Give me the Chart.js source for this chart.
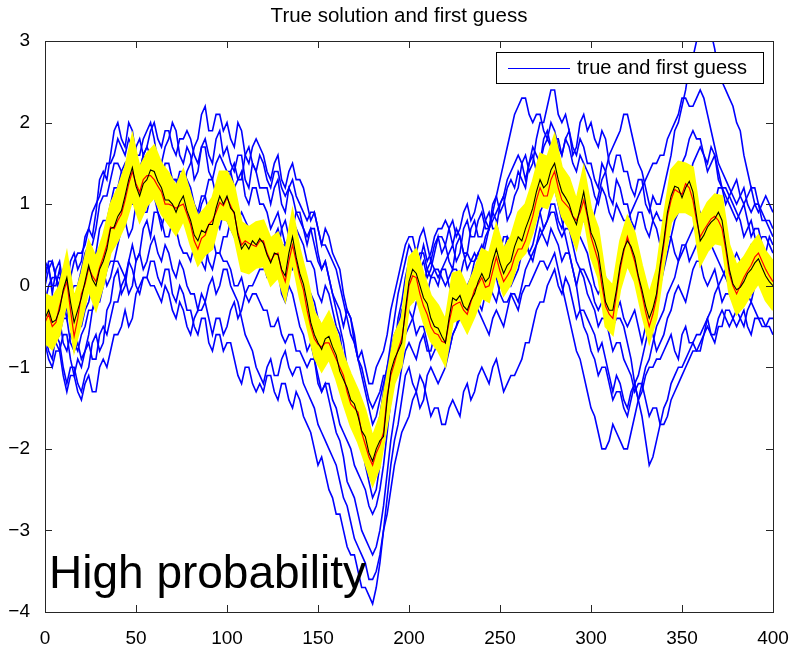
<!DOCTYPE html>
<html><head><meta charset="utf-8">
<script src="https://cdn.jsdelivr.net/npm/chart.js@4.4.0/dist/chart.umd.min.js"></script>
<style>html,body{margin:0;padding:0;background:#fff;}</style>
</head><body>
<canvas id="c" width="803" height="647"></canvas>
<script>
// ---------- data ----------
const lineStep = 2;    // x spacing of the line samples (0..400)
const spreadStep = 4;  // x spacing of the yellow spread samples (0..400)
const xTickValues = [0, 50, 100, 150, 200, 250, 300, 350, 400];
const yTickValues = [-4, -3, -2, -1, 0, 1, 2, 3];
const titleText = 'True solution and first guess';
const legendText = 'true and first guess';
const noteText = 'High probability';

const trueSolution = [
 -0.40,-0.30,-0.45,-0.42,-0.30,-0.05,0.10,-0.20,-0.45,-0.30,
 -0.15,0.05,0.25,0.08,0.00,0.20,0.30,0.45,0.70,0.72,
 0.85,0.92,1.10,1.30,1.45,1.22,1.10,1.25,1.30,1.42,
 1.40,1.28,1.20,1.05,1.05,1.00,0.90,1.02,1.10,0.92,
 0.80,0.62,0.55,0.68,0.65,0.75,0.75,0.95,1.10,1.00,
 1.10,0.95,0.90,0.62,0.45,0.52,0.45,0.55,0.50,0.58,
 0.52,0.38,0.28,0.40,0.38,0.20,0.12,0.40,0.60,0.35,
 0.15,0.02,-0.20,-0.45,-0.60,-0.70,-0.78,-0.65,-0.62,-0.75,
 -0.85,-1.05,-1.15,-1.25,-1.40,-1.45,-1.60,-1.78,-1.85,-2.05,
 -2.15,-2.00,-1.90,-1.85,-1.40,-1.05,-0.90,-0.80,-0.70,-0.30,
 0.05,0.20,0.15,0.00,-0.15,-0.22,-0.40,-0.50,-0.52,-0.62,
 -0.70,-0.40,-0.15,-0.18,-0.12,-0.25,-0.30,-0.18,-0.10,0.05,
 0.15,0.05,0.10,0.30,0.45,0.28,0.15,0.25,0.30,0.48,
 0.60,0.55,0.70,0.82,0.95,1.15,1.30,1.20,1.25,1.42,
 1.50,1.30,1.15,1.08,1.00,0.85,0.75,0.95,1.15,0.88,
 0.65,0.55,0.40,0.10,-0.20,-0.30,-0.30,-0.05,0.25,0.45,
 0.55,0.48,0.35,0.12,-0.05,-0.25,-0.40,-0.28,-0.10,0.25,
 0.55,0.90,1.10,1.22,1.20,1.08,1.20,1.28,1.15,0.85,
 0.55,0.62,0.72,0.78,0.82,0.90,0.80,0.50,0.20,0.02,
 -0.05,-0.02,0.05,0.15,0.20,0.28,0.33,0.22,0.12,0.05,
 0.00];

const analysisMean = [
 -0.45,-0.35,-0.50,-0.45,-0.25,-0.08,0.05,-0.30,-0.62,-0.40,
 -0.10,0.02,0.22,0.12,0.05,0.22,0.35,0.50,0.72,0.70,
 0.80,0.88,1.05,1.25,1.40,1.25,1.15,1.30,1.35,1.35,
 1.30,1.22,1.15,1.00,1.00,0.98,0.95,0.98,1.00,0.88,
 0.75,0.55,0.45,0.58,0.62,0.75,0.80,0.90,1.02,0.98,
 1.08,0.98,0.88,0.65,0.50,0.55,0.52,0.50,0.48,0.55,
 0.55,0.40,0.30,0.38,0.40,0.18,0.05,0.30,0.50,0.30,
 0.10,-0.05,-0.30,-0.50,-0.65,-0.72,-0.75,-0.70,-0.70,-0.80,
 -0.90,-1.00,-1.10,-1.30,-1.45,-1.50,-1.55,-1.80,-1.95,-2.10,
 -2.20,-2.05,-1.95,-1.80,-1.35,-1.10,-0.95,-0.78,-0.65,-0.35,
 0.00,0.12,0.10,-0.10,-0.25,-0.35,-0.50,-0.58,-0.60,-0.68,
 -0.70,-0.45,-0.25,-0.22,-0.20,-0.30,-0.35,-0.20,-0.05,0.02,
 0.10,-0.02,0.00,0.18,0.35,0.18,0.05,0.12,0.20,0.35,
 0.45,0.45,0.55,0.70,0.85,1.05,1.20,1.10,1.10,1.30,
 1.40,1.20,1.05,1.00,0.95,0.85,0.80,0.90,1.05,0.85,
 0.60,0.45,0.30,0.00,-0.25,-0.35,-0.40,-0.10,0.20,0.42,
 0.60,0.45,0.30,0.10,-0.10,-0.32,-0.50,-0.35,-0.15,0.20,
 0.50,0.85,1.05,1.18,1.15,1.12,1.25,1.20,1.05,0.80,
 0.60,0.68,0.75,0.82,0.85,0.80,0.70,0.45,0.15,0.00,
 -0.10,0.00,0.10,0.18,0.25,0.35,0.40,0.30,0.20,0.12,
 0.05];

const spreadUpper = [
 -0.10,-0.15,0.00,0.40,-0.15, 0.15,0.55,0.35,0.62,1.00,
 1.20,1.45,1.85,1.45,1.62, 1.72,1.50,1.38,1.22,1.42,
 1.12,0.85,0.95,1.08,1.40, 1.40,1.22,0.78,0.72,0.78,
 0.80,0.58,0.65,0.42,0.92, 0.45,0.10,-0.32,-0.48,-0.32,
 -0.55,-0.85,-1.08,-1.28,-1.52, -1.85,-1.60,-1.10,-0.60,-0.40,
 0.35,0.45,0.15,-0.12,-0.24, -0.42,0.15,0.18,-0.02,0.20,
 0.45,0.40,0.75,0.45,0.60, 0.90,1.00,1.28,1.62,1.58,
 1.85,1.45,1.32,1.05,1.45, 0.95,0.70,0.10,0.00,0.55,
 0.85,0.65,0.25,-0.10,0.20, 0.85,1.42,1.52,1.50,1.45,
 0.85,1.02,1.12,1.10,0.50, 0.25,0.35,0.50,0.62,0.42,
 0.30];

const spreadLower = [
 -0.70,-0.78,-0.60,-0.20,-0.80, -0.45,-0.05,-0.30,0.00,0.40,
 0.55,0.75,1.05,0.78,0.98, 1.08,0.88,0.75,0.62,0.80,
 0.50,0.25,0.38,0.45,0.82, 0.80,0.60,0.18,0.15,0.22,
 0.24,0.00,0.10,-0.18,0.30, -0.15,-0.50,-0.88,-1.05,-0.90,
 -1.15,-1.45,-1.72,-1.92,-2.18, -2.45,-2.22,-1.70,-1.20,-0.98,
 -0.25,-0.15,-0.45,-0.68,-0.80, -0.98,-0.45,-0.40,-0.58,-0.38,
 -0.15,-0.20,0.15,-0.12,0.02, 0.30,0.40,0.65,0.98,0.95,
 1.18,0.85,0.70,0.45,0.85, 0.35,0.10,-0.50,-0.60,-0.05,
 0.25,0.05,-0.35,-0.70,-0.40, 0.25,0.78,0.90,0.90,0.85,
 0.25,0.42,0.52,0.50,-0.10, -0.35,-0.25,-0.10,0.03,-0.18,
 -0.30];

const guess1 = [
 0.2,0.25,-0.1,0.2,0.3,0.0,0.0,0.3,0.4,0.2,
 0.3,0.6,0.7,0.6,0.9,1.3,1.4,1.3,1.6,1.9,
 2.0,1.8,1.7,2.0,1.9,1.6,1.6,1.8,1.9,2.0,
 1.8,1.5,1.5,1.7,1.8,2.0,1.9,1.6,1.5,1.7,
 1.6,1.3,1.4,1.7,1.8,1.6,1.5,1.8,1.9,1.6,
 1.7,1.5,1.4,1.6,1.6,1.3,1.2,1.5,1.4,1.2,
 1.2,1.2,1.0,1.2,1.3,1.0,0.9,1.2,1.1,0.9,
 0.8,0.7,0.5,0.7,0.7,0.4,0.2,0.3,0.1,-0.1,
 -0.2,-0.3,-0.5,-0.3,-0.4,-0.7,-0.9,-0.8,-1.0,-1.2,
 -1.2,-1.0,-0.9,-0.8,-0.6,-0.3,-0.1,0.1,0.3,0.5,
 0.6,0.6,0.4,0.6,0.7,0.5,0.3,0.5,0.6,0.6,
 0.5,0.3,0.2,0.5,0.6,0.4,0.4,0.7,0.8,0.6,
 0.6,0.8,0.9,0.7,0.7,1.0,1.1,0.8,0.9,1.1,
 1.2,1.5,1.6,1.4,1.5,1.8,2.0,2.0,2.2,2.4,
 2.4,2.1,2.0,2.1,1.9,1.7,1.6,1.8,1.7,1.5,
 1.5,1.3,1.2,1.5,1.4,1.1,1.0,1.3,1.2,1.0,
 1.0,0.8,0.7,0.9,0.9,0.7,0.6,0.8,0.9,0.8,
 0.8,1.0,1.1,1.3,1.3,1.5,1.6,1.8,1.9,1.8,
 1.8,1.6,1.5,1.7,1.6,1.3,1.2,1.1,1.0,0.9,
 0.8,0.9,1.0,0.8,0.6,0.7,0.7,0.5,0.4,0.6,
 0.5];
const guess2 = [
 -0.6,-0.8,-0.9,-0.6,-0.7,-1.0,-1.2,-1.0,-1.0,-1.2,
 -1.3,-1.1,-1.0,-0.7,-0.6,-0.8,-0.7,-0.3,-0.2,0.1,
 0.2,-0.1,0.0,0.3,0.5,0.3,0.4,0.7,0.8,0.6,
 0.9,0.9,0.7,0.9,1.1,1.3,1.3,1.1,1.2,1.4,
 1.5,1.7,1.8,2.1,2.2,1.9,1.9,2.1,2.1,1.9,
 2.0,1.8,1.7,2.0,1.9,1.6,1.5,1.7,1.8,1.7,
 1.6,1.4,1.3,1.5,1.6,1.3,1.2,1.4,1.5,1.3,
 1.3,1.2,1.0,0.8,0.9,0.7,0.5,0.7,0.6,0.4,
 0.3,0.2,-0.1,-0.3,-0.4,-0.6,-0.9,-1.0,-1.2,-1.4,
 -1.5,-1.4,-1.3,-1.1,-1.1,-0.8,-0.7,-0.9,-0.8,-0.6,
 -0.5,-0.4,-0.2,-0.1,-0.3,-0.1,0.1,0.1,0.0,0.2,
 0.3,0.4,0.5,0.3,0.4,0.7,0.8,0.6,0.6,0.8,
 0.9,0.7,0.7,1.0,1.1,0.9,1.0,1.2,1.3,1.2,
 1.4,1.3,1.2,1.5,1.6,1.4,1.5,1.8,1.9,1.7,
 1.8,1.8,1.6,1.8,1.9,1.6,1.7,2.0,2.1,1.9,
 2.0,1.8,1.7,1.9,1.8,1.5,1.4,1.6,1.6,1.4,
 1.4,1.2,1.1,1.3,1.3,1.0,0.9,1.1,1.0,1.0,
 1.2,1.4,1.6,1.9,2.0,2.2,2.4,2.7,2.8,3.0,
 3.1,3.3,3.3,3.1,2.9,2.6,2.5,2.4,2.3,2.2,
 2.0,1.9,1.6,1.4,1.2,1.2,1.0,0.8,0.8,0.7,
 0.6];
const guess3 = [
 -0.7,-0.9,-1.0,-0.8,-0.8,-1.1,-1.3,-1.1,-1.1,-1.3,
 -1.4,-1.2,-1.1,-1.3,-1.3,-1.0,-0.9,-1.0,-0.8,-0.6,
 -0.6,-0.5,-0.3,-0.5,-0.4,-0.1,0.0,0.1,0.1,0.3,
 0.3,0.1,0.0,0.2,0.2,-0.1,-0.2,0.0,-0.1,-0.3,
 -0.3,-0.5,-0.6,-0.4,-0.4,-0.7,-0.8,-0.6,-0.6,-0.8,
 -0.7,-0.7,-0.9,-1.1,-1.2,-1.0,-1.0,-1.2,-1.3,-1.2,
 -1.3,-1.1,-1.1,-1.3,-1.4,-1.2,-1.2,-1.4,-1.5,-1.3,
 -1.4,-1.6,-1.7,-1.8,-2.0,-2.2,-2.1,-2.3,-2.5,-2.6,
 -2.8,-2.8,-3.0,-3.2,-3.3,-3.3,-3.5,-3.7,-3.7,-3.8,
 -3.9,-3.7,-3.4,-3.0,-2.6,-2.2,-1.9,-1.7,-1.4,-1.1,
 -1.0,-1.2,-1.3,-1.1,-1.2,-1.4,-1.6,-1.5,-1.5,-1.7,
 -1.7,-1.5,-1.4,-1.5,-1.6,-1.3,-1.2,-1.4,-1.3,-1.1,
 -1.0,-1.1,-1.2,-1.0,-0.9,-1.1,-1.3,-1.2,-1.1,-1.1,
 -1.0,-0.9,-0.7,-0.7,-0.5,-0.3,-0.2,-0.2,0.0,0.1,
 0.2,0.0,-0.1,0.1,0.0,-0.2,-0.4,-0.3,-0.3,-0.4,
 -0.5,-0.6,-0.8,-0.7,-0.9,-1.1,-1.3,-1.1,-1.2,-1.4,
 -1.5,-1.3,-1.2,-1.4,-1.3,-1.1,-1.0,-1.0,-0.9,-0.9,
 -0.8,-0.7,-0.6,-0.8,-0.9,-0.6,-0.5,-0.7,-0.7,-0.6,
 -0.6,-0.5,-0.4,-0.6,-0.7,-0.5,-0.5,-0.3,-0.3,-0.4,
 -0.5,-0.4,-0.3,-0.5,-0.6,-0.4,-0.4,-0.5,-0.5,-0.4,
 -0.4];
const guess4 = [
 0.3,0.2,0.0,0.0,0.2,-0.1,-0.3,-0.1,-0.1,-0.3,
 -0.2,0.1,0.2,0.2,0.4,0.7,0.8,0.8,1.0,1.2,
 1.2,1.4,1.5,1.3,1.4,1.7,1.8,1.6,1.7,1.9,
 2.0,1.8,1.7,1.9,1.9,1.7,1.6,1.8,1.8,1.9,
 1.8,1.6,1.5,1.7,1.7,1.4,1.3,1.5,1.6,1.5,
 1.4,1.4,1.2,1.3,1.4,1.1,1.0,1.2,1.2,1.0,
 1.0,0.9,0.7,0.8,0.9,0.7,0.5,0.6,0.8,0.7,
 0.6,0.5,0.3,0.3,0.2,-0.1,-0.2,0.0,-0.1,-0.3,
 -0.5,-0.6,-0.9,-1.1,-1.3,-1.6,-1.8,-1.9,-2.2,-2.4,
 -2.6,-2.5,-2.2,-1.8,-1.5,-1.2,-0.8,-0.4,-0.2,0.1,
 0.3,0.2,0.1,0.3,0.5,0.3,0.4,0.6,0.7,0.7,
 0.8,0.7,0.5,0.7,0.6,0.4,0.2,0.3,0.4,0.3,
 0.4,0.6,0.7,0.8,0.9,1.0,1.1,1.3,1.4,1.5,
 1.6,1.5,1.3,1.5,1.7,1.6,1.5,1.7,1.8,1.7,
 1.6,1.5,1.3,1.2,1.0,0.8,0.6,0.6,0.5,0.4,
 0.2,0.0,-0.1,0.0,0.1,-0.1,-0.3,-0.3,-0.2,-0.4,
 -0.5,-0.4,-0.3,-0.5,-0.7,-0.5,-0.4,-0.6,-0.8,-0.7,
 -0.6,-0.4,-0.3,-0.1,0.0,-0.1,-0.2,0.0,0.2,0.3,
 0.3,0.1,0.0,0.1,0.2,0.0,-0.2,-0.1,-0.1,-0.2,
 -0.3,-0.1,0.0,-0.1,-0.2,0.0,0.2,0.1,-0.1,0.0,
 0.1];
const guess5 = [
 -0.5,-0.3,-0.3,-0.5,-0.6,-0.4,-0.4,-0.7,-0.8,-0.7,
 -0.9,-0.8,-0.6,-0.3,-0.2,-0.2,0.0,0.2,0.3,0.3,
 0.5,0.7,0.8,0.6,0.7,1.0,1.1,0.9,0.9,1.1,
 1.1,0.9,0.8,0.6,0.6,0.8,0.7,0.5,0.4,0.4,
 0.3,0.5,0.5,0.3,0.2,0.5,0.6,0.4,0.4,0.6,
 0.6,0.8,0.8,0.6,0.5,0.7,0.6,0.4,0.3,0.4,
 0.3,0.1,0.1,0.3,0.2,-0.1,-0.2,0.0,-0.1,-0.3,
 -0.5,-0.6,-0.8,-0.7,-0.9,-1.2,-1.3,-1.2,-1.4,-1.6,
 -1.8,-1.9,-2.1,-2.4,-2.5,-2.6,-2.8,-3.0,-3.1,-3.2,
 -3.3,-3.2,-3.0,-2.7,-2.3,-1.9,-1.6,-1.3,-1.0,-0.8,
 -0.7,-0.8,-0.9,-0.7,-0.6,-0.8,-0.8,-0.6,-0.4,-0.4,
 -0.5,-0.3,-0.2,-0.3,-0.4,-0.2,-0.1,-0.2,-0.3,-0.2,
 -0.3,-0.1,0.0,-0.1,-0.2,0.0,0.1,0.1,0.0,0.1,
 0.2,0.4,0.5,0.4,0.3,0.5,0.7,0.6,0.5,0.7,
 0.6,0.5,0.3,0.4,0.4,0.2,0.0,0.2,0.1,-0.1,
 -0.2,-0.3,-0.5,-0.4,-0.4,-0.6,-0.8,-0.7,-0.7,-0.9,
 -1.0,-1.1,-1.3,-1.2,-1.2,-1.4,-1.6,-1.5,-1.5,-1.7,
 -1.7,-1.6,-1.4,-1.3,-1.2,-1.1,-1.0,-0.9,-0.8,-0.8,
 -0.7,-0.6,-0.4,-0.3,-0.1,0.0,0.1,0.2,0.3,0.3,
 0.4,0.3,0.2,0.4,0.5,0.4,0.3,0.3,0.4,0.3,
 0.2];
const guess6 = [
 -0.2,0.0,0.1,0.1,-0.1,-0.2,-0.4,-0.1,0.0,0.0,
 0.2,0.4,0.5,0.5,0.7,1.0,1.1,1.1,1.3,1.5,
 1.5,1.4,1.3,1.5,1.6,1.4,1.4,1.6,1.7,1.6,
 1.5,1.3,1.2,1.2,1.1,0.9,0.8,0.8,0.9,0.7,
 0.6,0.5,0.4,0.5,0.5,0.3,0.2,0.4,0.4,0.3,
 0.3,0.2,0.0,0.0,0.1,-0.1,-0.2,-0.1,-0.1,-0.2,
 -0.3,-0.3,-0.5,-0.5,-0.4,-0.6,-0.7,-0.6,-0.6,-0.8,
 -0.8,-0.9,-1.0,-0.9,-0.9,-1.1,-1.3,-1.2,-1.2,-1.4,
 -1.5,-1.7,-1.8,-1.9,-2.0,-2.2,-2.3,-2.4,-2.5,-2.7,
 -2.8,-2.7,-2.5,-2.2,-1.8,-1.4,-1.0,-0.8,-0.6,-0.4,
 -0.3,-0.4,-0.6,-0.5,-0.5,-0.7,-0.9,-0.8,-0.7,-0.8,
 -0.9,-0.8,-0.6,-0.5,-0.4,-0.3,-0.1,-0.1,-0.2,-0.1,
 0.0,0.2,0.3,0.2,0.2,0.4,0.6,0.6,0.5,0.6,
 0.8,0.7,0.6,0.8,1.0,1.0,0.9,1.0,1.3,1.3,
 1.2,1.0,0.8,0.6,0.4,0.2,0.0,-0.3,-0.5,-0.6,
 -0.8,-0.9,-1.1,-1.0,-1.0,-1.2,-1.4,-1.3,-1.3,-1.5,
 -1.6,-1.4,-1.2,-1.1,-0.9,-0.7,-0.5,-0.4,-0.2,0.0,
 0.2,0.4,0.6,0.8,0.9,1.1,1.3,1.3,1.5,1.6,
 1.7,1.6,1.4,1.5,1.6,1.4,1.2,1.2,1.1,1.0,
 0.9,0.8,0.6,0.7,0.8,0.6,0.5,0.6,0.6,0.5,
 0.4];
const guess7 = [
 -0.6,-0.4,-0.4,-0.7,-0.8,-0.6,-0.6,-0.9,-1.1,-0.9,
 -1.0,-0.8,-0.7,-0.9,-0.9,-0.6,-0.5,-0.6,-0.4,-0.2,
 -0.2,0.0,0.1,-0.1,0.0,0.3,0.4,0.2,0.3,0.5,
 0.6,0.4,0.3,0.5,0.4,0.2,0.1,0.3,0.2,0.0,
 -0.1,-0.1,-0.3,-0.1,-0.2,-0.4,-0.6,-0.4,-0.4,-0.6,
 -0.5,-0.3,-0.2,-0.4,-0.3,-0.1,0.0,0.0,0.1,0.2,
 0.2,0.4,0.5,0.3,0.4,0.7,0.8,0.6,0.7,0.9,
 0.9,0.7,0.6,0.7,0.5,0.3,0.2,0.3,0.1,-0.1,
 -0.3,-0.5,-0.7,-1.0,-1.2,-1.4,-1.6,-1.8,-2.0,-2.2,
 -2.4,-2.3,-2.0,-1.7,-1.4,-1.1,-0.9,-0.7,-0.5,-0.4,
 -0.2,-0.2,0.0,0.2,0.3,0.1,0.2,0.4,0.6,0.4,
 0.5,0.7,0.8,0.6,0.7,0.9,1.0,0.8,0.9,1.1,
 1.0,0.8,0.7,0.9,0.8,0.5,0.4,0.6,0.5,0.3,
 0.3,0.5,0.6,0.4,0.5,0.7,0.9,0.7,0.8,1.0,
 1.0,0.8,0.7,0.9,0.9,0.7,0.6,0.8,0.8,0.7,
 0.7,0.9,1.1,1.3,1.4,1.6,1.7,1.8,1.9,2.1,
 2.1,1.9,1.7,1.5,1.4,1.2,1.0,0.8,0.7,0.5,
 0.4,0.6,0.6,0.4,0.3,0.5,0.5,0.3,0.4,0.5,
 0.6,0.7,0.8,0.9,1.0,1.2,1.2,1.0,1.1,1.2,
 1.3,1.1,1.0,1.1,1.2,1.0,0.9,1.0,1.1,1.0,
 0.9];
const guess8 = [
 0.0,0.2,0.3,0.1,0.1,-0.1,-0.2,-0.1,-0.3,-0.5,
 -0.5,-0.3,-0.2,0.0,0.1,0.1,0.3,0.5,0.6,0.7,
 0.9,1.1,1.2,1.0,1.0,1.3,1.4,1.2,1.3,1.5,
 1.6,1.4,1.3,1.5,1.5,1.3,1.2,1.4,1.4,1.3,
 1.2,1.0,0.9,1.1,1.1,1.3,1.3,1.1,1.0,1.2,
 1.2,1.4,1.5,1.3,1.3,1.6,1.7,1.5,1.4,1.6,
 1.5,1.3,1.2,1.4,1.4,1.2,1.1,1.2,1.3,1.1,
 1.0,0.9,0.8,0.9,0.9,0.7,0.5,0.5,0.4,0.3,
 0.2,0.0,-0.2,-0.4,-0.6,-0.7,-0.9,-1.1,-1.3,-1.5,
 -1.7,-1.6,-1.4,-1.2,-1.0,-0.8,-0.6,-0.5,-0.3,-0.2,
 -0.1,0.1,0.2,0.1,0.0,0.2,0.3,0.2,0.1,0.2,
 0.2,0.0,-0.1,0.1,0.0,-0.2,-0.3,-0.2,-0.2,-0.3,
 -0.4,-0.5,-0.6,-0.4,-0.3,-0.4,-0.5,-0.3,-0.1,-0.1,
 -0.2,0.0,0.2,0.3,0.4,0.5,0.6,0.7,0.8,0.9,
 0.9,0.7,0.6,0.7,0.7,0.5,0.3,0.2,0.2,0.1,
 0.0,-0.2,-0.3,-0.2,-0.2,-0.4,-0.5,-0.4,-0.4,-0.5,
 -0.7,-0.9,-1.2,-1.4,-1.6,-1.9,-2.2,-2.1,-1.9,-1.7,
 -1.5,-1.4,-1.2,-1.1,-1.0,-1.0,-0.9,-0.8,-0.7,-0.8,
 -0.8,-0.6,-0.5,-0.6,-0.6,-0.4,-0.3,-0.4,-0.5,-0.4,
 -0.3,-0.4,-0.5,-0.3,-0.2,-0.3,-0.4,-0.4,-0.5,-0.5,
 -0.6];
const guess9 = [
 -0.3,-0.5,-0.6,-0.4,-0.4,-0.7,-0.8,-0.6,-0.7,-0.8,
 -0.6,-0.5,-0.3,-0.3,-0.1,0.1,0.2,0.0,0.1,0.3,
 0.3,0.2,0.1,0.3,0.2,0.0,-0.1,0.1,0.1,0.0,
 0.0,-0.1,-0.2,0.0,-0.1,-0.3,-0.4,-0.2,-0.3,-0.5,
 -0.6,-0.4,-0.3,-0.3,-0.2,0.0,0.1,-0.1,0.0,0.2,
 0.2,0.0,-0.1,-0.2,-0.4,-0.6,-0.7,-0.8,-1.0,-1.1,
 -1.2,-1.0,-0.9,-1.1,-1.1,-0.9,-0.8,-1.0,-1.1,-1.0,
 -1.0,-1.2,-1.3,-1.4,-1.5,-1.7,-1.8,-1.9,-2.0,-2.1,
 -2.2,-2.4,-2.6,-2.7,-2.9,-3.1,-3.2,-3.3,-3.4,-3.6,
 -3.6,-3.5,-3.3,-3.0,-2.8,-2.5,-2.2,-2.0,-1.8,-1.7,
 -1.6,-1.4,-1.3,-1.5,-1.4,-1.1,-1.0,-1.1,-1.2,-1.1,
 -1.0,-0.8,-0.6,-0.5,-0.3,-0.1,0.0,0.1,0.3,0.4,
 0.5,0.3,0.2,0.2,0.1,-0.1,-0.2,-0.2,-0.1,-0.2,
 -0.3,-0.1,0.0,0.0,0.1,0.2,0.3,0.3,0.2,0.3,
 0.4,0.2,0.0,-0.2,-0.4,-0.6,-0.8,-0.9,-1.1,-1.3,
 -1.5,-1.6,-1.8,-2.0,-2.0,-1.9,-1.7,-1.8,-1.9,-2.0,
 -2.0,-1.8,-1.6,-1.4,-1.2,-1.0,-0.9,-0.7,-0.5,-0.4,
 -0.3,-0.1,0.0,0.1,0.3,0.4,0.5,0.6,0.7,0.8,
 0.9,0.8,0.6,0.5,0.4,0.3,0.2,0.1,0.0,0.0,
 -0.1,0.0,0.1,0.0,-0.1,0.0,0.2,0.2,0.1,0.2,
 0.3];
const guess10 = [
 0.1,0.3,0.3,0.1,0.0,0.2,0.2,0.1,0.3,0.4,
 0.4,0.5,0.7,0.9,1.0,1.1,1.3,1.5,1.5,1.6,
 1.8,1.7,1.6,1.8,1.7,1.5,1.4,1.6,1.5,1.3,
 1.2,1.3,1.4,1.2,1.1,1.3,1.3,1.1,1.0,1.1,
 1.0,0.9,0.8,1.0,1.1,0.9,0.9,0.8,0.7,0.9,
 0.8,0.7,0.6,0.8,0.9,0.8,0.7,0.5,0.5,0.6,
 0.6,0.5,0.4,0.6,0.7,0.5,0.5,0.3,0.2,0.3,
 0.3,0.2,0.0,-0.1,-0.2,-0.4,-0.5,-0.6,-0.7,-0.9,
 -1.0,-1.1,-1.2,-1.4,-1.5,-1.6,-1.7,-1.9,-2.0,-2.1,
 -2.0,-1.8,-1.6,-1.3,-1.0,-0.7,-0.4,-0.1,0.1,0.3,
 0.5,0.4,0.3,0.4,0.4,0.2,0.1,0.2,0.2,0.1,
 0.0,0.1,0.2,0.2,0.1,0.3,0.4,0.3,0.3,0.4,
 0.3,0.5,0.7,0.9,1.1,1.3,1.5,1.7,1.9,2.1,
 2.2,2.3,2.3,2.1,2.0,2.1,2.1,1.9,1.8,2.0,
 1.9,1.7,1.6,1.8,1.7,1.5,1.4,1.6,1.5,1.4,
 1.3,1.1,1.0,1.2,1.1,0.9,0.8,1.0,0.9,0.8,
 0.8,0.9,1.0,1.1,1.2,1.3,1.4,1.5,1.5,1.6,
 1.6,1.8,1.9,2.0,2.1,2.3,2.3,2.2,2.2,2.3,
 2.4,2.3,2.1,1.9,1.7,1.5,1.4,1.3,1.2,1.1,
 1.0,1.1,1.2,1.0,0.9,1.0,1.0,0.9,0.8,0.8,
 0.7];
const firstGuesses = [guess1, guess2, guess3, guess4, guess5, guess6, guess7, guess8, guess9, guess10];

// ---------- chart ----------
const FONT = '"Liberation Sans", Arial, Helvetica, sans-serif';
const toPoints = (arr, step) => arr.map((v, i) => ({x: i * step, y: v}));
const lineDs = (arr, step, color, width, extra) => Object.assign({
  data: toPoints(arr, step), borderColor: color, borderWidth: width,
  pointRadius: 0, tension: 0, fill: false, clip: 0
}, extra || {});

const datasets = [
  lineDs(trueSolution, lineStep, '#000000', 1.1),
  lineDs(analysisMean, lineStep, '#ff0000', 1.2),
  lineDs(spreadUpper, spreadStep, '#ffff00', 2),
  lineDs(spreadLower, spreadStep, '#ffff00', 2, { fill: '-1', backgroundColor: '#ffff00' }),
  ...firstGuesses.map(g => lineDs(g, lineStep, '#0000ff', 1.6))
];

const minus = v => (v < 0 ? '\u2212' + Math.abs(v) : String(v));

const matlabAxes = {
  id: 'matlabAxes',
  afterDraw(chart) {
    const ctx = chart.ctx, a = chart.chartArea;
    const xs = chart.scales.x, ys = chart.scales.y;
    ctx.save();
    ctx.strokeStyle = '#262626';
    ctx.lineWidth = 1;
    ctx.strokeRect(Math.round(a.left) + 0.5, Math.round(a.top) + 0.5,
                   Math.round(a.right - a.left), Math.round(a.bottom - a.top));
    const TL = 7;
    ctx.beginPath();
    xTickValues.forEach(v => {
      const px = Math.round(xs.getPixelForValue(v)) + 0.5;
      ctx.moveTo(px, a.bottom); ctx.lineTo(px, a.bottom - TL);
      ctx.moveTo(px, a.top); ctx.lineTo(px, a.top + TL);
    });
    yTickValues.forEach(v => {
      const py = Math.round(ys.getPixelForValue(v)) + 0.5;
      ctx.moveTo(a.left, py); ctx.lineTo(a.left + TL, py);
      ctx.moveTo(a.right, py); ctx.lineTo(a.right - TL, py);
    });
    ctx.stroke();

    // title
    ctx.fillStyle = '#000';
    ctx.font = '20.5px ' + FONT;
    ctx.textAlign = 'center';
    ctx.textBaseline = 'alphabetic';
    ctx.fillText(titleText, 399, 22);

    // legend
    const lx = 496, ly = 52, lw = 267, lh = 31;
    ctx.fillStyle = '#fff';
    ctx.fillRect(lx, ly, lw, lh);
    ctx.strokeStyle = '#000';
    ctx.strokeRect(lx + 0.5, ly + 0.5, lw, lh);
    ctx.strokeStyle = '#0000ff';
    ctx.lineWidth = 1;
    ctx.beginPath(); ctx.moveTo(508, 68.5); ctx.lineTo(570, 68.5); ctx.stroke();
    ctx.fillStyle = '#000';
    ctx.font = '20px ' + FONT;
    ctx.textAlign = 'left';
    ctx.textBaseline = 'middle';
    ctx.fillText(legendText, 577, 68);

    // annotation
    ctx.font = '46px ' + FONT;
    ctx.textBaseline = 'alphabetic';
    ctx.fillText(noteText, 49, 588);
    ctx.restore();
  }
};

new Chart(document.getElementById('c'), {
  type: 'line',
  data: { datasets },
  options: {
    responsive: false,
    animation: false,
    events: [],
    layout: { padding: { top: 41, right: 30, left: 0, bottom: 0 } },
    plugins: { legend: { display: false }, title: { display: false }, tooltip: { enabled: false } },
    scales: {
      x: {
        type: 'linear', min: 0, max: 400,
        afterFit: s => { s.height = 35; },
        afterBuildTicks: s => { s.ticks = xTickValues.map(v => ({value: v})); },
        ticks: { color: '#000', font: { family: FONT, size: 19 }, padding: 7, maxRotation: 0,
                 callback: v => minus(v) },
        grid: { display: false },
        border: { display: false }
      },
      y: {
        type: 'linear', min: -4, max: 3,
        afterFit: s => { s.width = 45; },
        afterBuildTicks: s => { s.ticks = yTickValues.map(v => ({value: v})); },
        ticks: { color: '#000', font: { family: FONT, size: 19 }, padding: 7,
                 callback: v => minus(v) },
        grid: { display: false },
        border: { display: false }
      }
    }
  },
  plugins: [matlabAxes]
});
</script>
</body></html>
